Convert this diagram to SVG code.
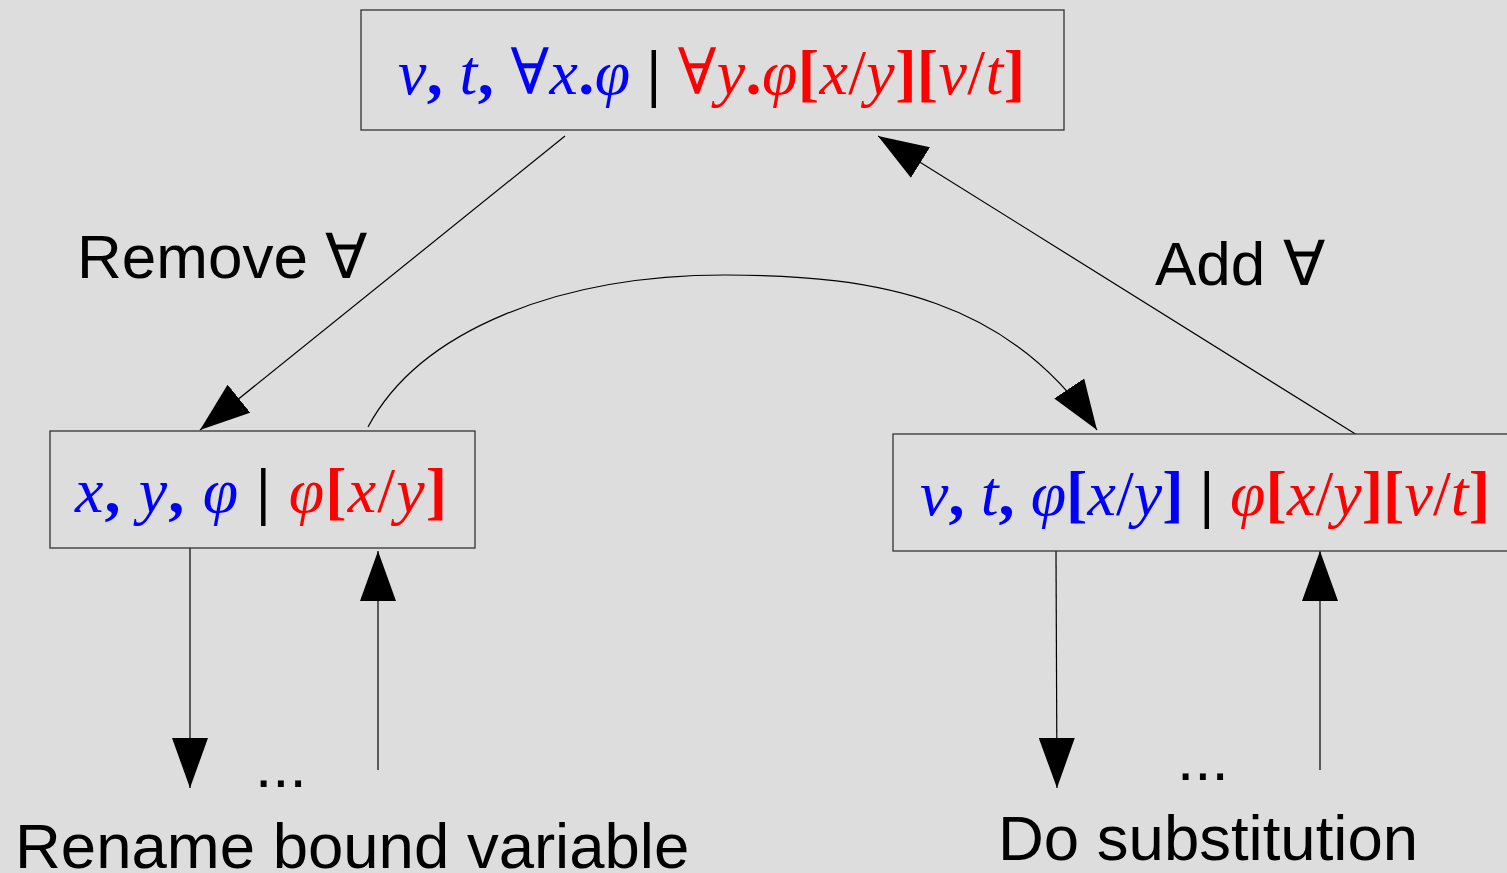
<svg xmlns="http://www.w3.org/2000/svg" width="1507" height="873" viewBox="0 0 1507 873">
<defs>
<style>
.box{fill:#dddddd;stroke:#333;stroke-width:1.3}
.m{font-family:"Liberation Serif","DejaVu Serif",serif;font-size:64px}
.i{font-style:italic}
.b{font-weight:bold}
.blue{fill:#0000ff}
.red{fill:#ff0000}
.k{fill:#000;font-weight:bold}
.lbl{font-family:"Liberation Sans",Arial,sans-serif;font-size:62px;fill:#000}
.big{font-size:63.5px}
.c{fill:none;stroke:#000;stroke-width:1.2}
</style>
<marker id="ah" viewBox="0 0 50 36" refX="50" refY="18" markerWidth="50" markerHeight="36" markerUnits="userSpaceOnUse" orient="auto">
<path d="M0,0 L50,18 L0,36 Z" fill="#000"/>
</marker>
</defs>
<rect width="1507" height="873" fill="#dddddd"/>
<g id="connectors">
<line class="c" x1="565" y1="136" x2="200" y2="430" marker-end="url(#ah)"/>
<path class="c" d="M368,427 C420,330 560,275 725,275 C880,275 1010,300 1097,430" marker-end="url(#ah)"/>
<line class="c" x1="1357" y1="435" x2="878" y2="136" marker-end="url(#ah)"/>
<line class="c" x1="190" y1="548" x2="190" y2="788" marker-end="url(#ah)"/>
<line class="c" x1="378" y1="770" x2="378" y2="551" marker-end="url(#ah)"/>
<line class="c" x1="1056" y1="551" x2="1057" y2="788" marker-end="url(#ah)"/>
<line class="c" x1="1320" y1="770" x2="1320" y2="551" marker-end="url(#ah)"/>
</g>
<g id="node-top">
<rect class="box" x="361" y="10" width="703" height="120"/>
<text class="m" x="398" y="94" textLength="627" lengthAdjust="spacing"><tspan class="blue i">v</tspan><tspan class="blue b">, </tspan><tspan class="blue i">t</tspan><tspan class="blue b">, </tspan><tspan class="blue">∀</tspan><tspan class="blue i">x</tspan><tspan class="blue b">.</tspan><tspan class="blue i">φ</tspan><tspan class="k"> | </tspan><tspan class="red">∀</tspan><tspan class="red i">y</tspan><tspan class="red b">.</tspan><tspan class="red i">φ</tspan><tspan class="red b">[</tspan><tspan class="red i">x</tspan><tspan class="red">/</tspan><tspan class="red i">y</tspan><tspan class="red b">][</tspan><tspan class="red i">v</tspan><tspan class="red">/</tspan><tspan class="red i">t</tspan><tspan class="red b">]</tspan></text>
</g>
<g id="node-left">
<rect class="box" x="50" y="431" width="425" height="117"/>
<text class="m" x="75" y="512" textLength="372" lengthAdjust="spacing"><tspan class="blue i">x</tspan><tspan class="blue b">, </tspan><tspan class="blue i">y</tspan><tspan class="blue b">, </tspan><tspan class="blue i">φ</tspan><tspan class="k"> | </tspan><tspan class="red i">φ</tspan><tspan class="red b">[</tspan><tspan class="red i">x</tspan><tspan class="red">/</tspan><tspan class="red i">y</tspan><tspan class="red b">]</tspan></text>
</g>
<g id="node-right">
<rect class="box" x="893" y="434" width="620" height="117"/>
<text class="m" x="920" y="515" textLength="570" lengthAdjust="spacing"><tspan class="blue i">v</tspan><tspan class="blue b">, </tspan><tspan class="blue i">t</tspan><tspan class="blue b">, </tspan><tspan class="blue i">φ</tspan><tspan class="blue b">[</tspan><tspan class="blue i">x</tspan><tspan class="blue">/</tspan><tspan class="blue i">y</tspan><tspan class="blue b">]</tspan><tspan class="k"> | </tspan><tspan class="red i">φ</tspan><tspan class="red b">[</tspan><tspan class="red i">x</tspan><tspan class="red">/</tspan><tspan class="red i">y</tspan><tspan class="red b">][</tspan><tspan class="red i">v</tspan><tspan class="red">/</tspan><tspan class="red i">t</tspan><tspan class="red b">]</tspan></text>
</g>
<g id="labels">
<text class="lbl" x="77" y="278">Remove ∀</text>
<text class="lbl" x="1155" y="285">Add ∀</text>
<text class="lbl" x="255" y="787">...</text>
<text class="lbl" x="1177" y="780">...</text>
<text class="lbl big" x="15" y="868">Rename bound variable</text>
<text class="lbl big" x="998" y="860">Do substitution</text>
</g>
</svg>
